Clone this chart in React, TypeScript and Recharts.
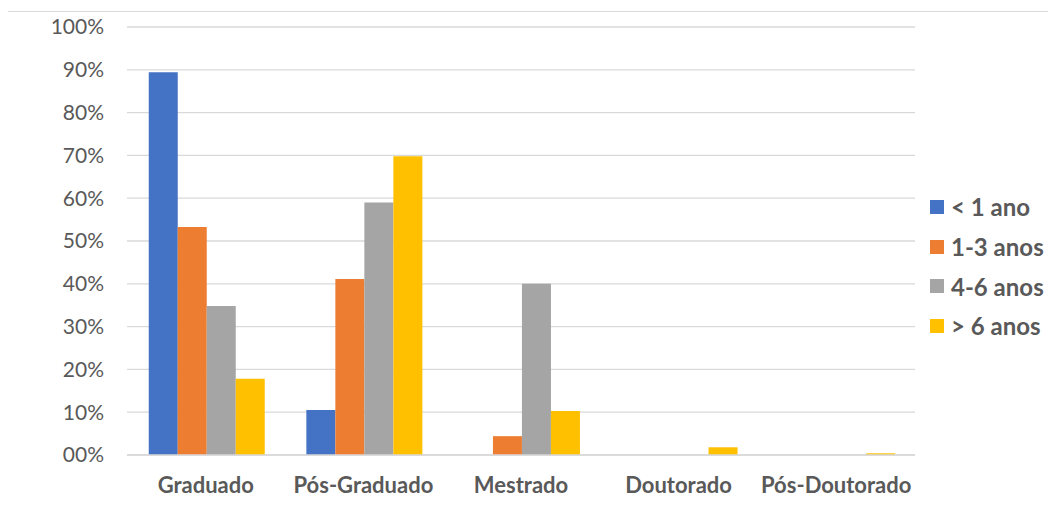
import React from "react";
import { BarChart, Bar, XAxis, YAxis, CartesianGrid } from "recharts";

const categories = ["Graduado", "Pós-Graduado", "Mestrado", "Doutorado", "Pós-Doutorado"];
const menos1 = [89.4, 10.5, 0, 0, 0];
const de1a3 = [53.3, 41.1, 4.4, 0, 0];
const de4a6 = [34.8, 59.0, 40.0, 0, 0];
const mais6 = [17.8, 69.8, 10.3, 1.8, 0.4];
const yTicks = [0, 10, 20, 30, 40, 50, 60, 70, 80, 90, 100];

const series = [
  { key: "a", name: "< 1 ano", color: "#4472C4", values: menos1 },
  { key: "b", name: "1-3 anos", color: "#ED7D31", values: de1a3 },
  { key: "c", name: "4-6 anos", color: "#A5A5A5", values: de4a6 },
  { key: "d", name: "> 6 anos", color: "#FFC000", values: mais6 },
];

const data = categories.map((cat, i) => {
  const row: any = { cat };
  series.forEach((s) => (row[s.key] = s.values[i]));
  return row;
});

const FONT = "Lato, 'Open Sans', sans-serif";

export default function App() {
  return (
    <div style={{ position: "relative", width: 1048, height: 505, fontFamily: FONT }}>
      <div
        style={{
          position: "absolute",
          left: -1,
          top: 3,
          width: 1040,
          height: 500,
          borderTop: "1px solid #d9d9d9",
          borderLeft: "1px solid #d9d9d9",
        }}
      />
      <BarChart
        width={1048}
        height={505}
        data={data}
        margin={{ top: 19, right: 141, bottom: 18, left: 0 }}
        barCategoryGap="13.8%"
        barGap={0}
        style={{ position: "absolute", left: 0, top: 0 }}
      >
        <CartesianGrid vertical={false} stroke="#d9d9d9" strokeWidth={1.3} />
        <XAxis
          dataKey="cat"
          height={40}
          tickLine={false}
          axisLine={{ stroke: "#d9d9d9", strokeWidth: 1.3 }}
          tickSize={0}
          tickMargin={22}
          tick={{ fill: "#595959", fontSize: 22, fontWeight: 700, fontFamily: FONT }}
          interval={0}
        />
        <YAxis
          width={119}
          domain={[0, 100]}
          ticks={yTicks}
          tickLine={false}
          axisLine={false}
          tickSize={0}
          tickMargin={23}
          tickFormatter={(v: number) => (v === 0 ? "00%" : `${v}%`)}
          tick={{ fill: "#595959", fontSize: 21, fontFamily: FONT }}
        />
        {series.map((s) => (
          <Bar key={s.key} dataKey={s.key} name={s.name} fill={s.color} isAnimationActive={false} />
        ))}
      </BarChart>
      <div style={{ position: "absolute", left: 922, top: 179 }}>
        {series.map((s) => (
          <div
            key={s.key}
            style={{ display: "flex", alignItems: "center", height: 39.7, color: "#595959", fontSize: 24, fontWeight: 700 }}
          >
            <span style={{ display: "inline-block", width: 14, height: 14, background: s.color, marginRight: 7 }} />
            {s.name}
          </div>
        ))}
      </div>
    </div>
  );
}
